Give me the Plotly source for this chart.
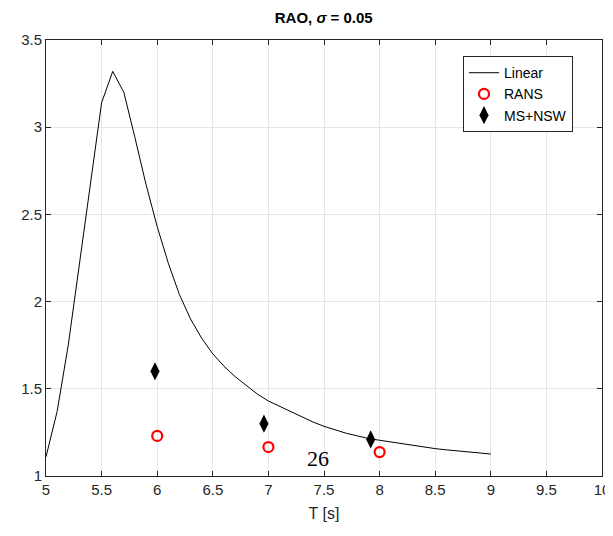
import plotly.graph_objects as go

T_lin = [5.0, 5.1, 5.2, 5.3, 5.4, 5.5, 5.6, 5.7, 5.8, 5.9, 6.0, 6.1, 6.2, 6.3, 6.4, 6.5,
         6.6, 6.7, 6.8, 6.9, 7.0, 7.1, 7.2, 7.3, 7.4, 7.5, 7.6, 7.7, 7.8, 7.9, 8.0,
         8.1, 8.2, 8.3, 8.4, 8.5, 8.6, 8.7, 8.8, 8.9, 9.0]
rao_lin = [1.11, 1.37, 1.75, 2.21, 2.68, 3.14, 3.32, 3.20, 2.94, 2.67, 2.43, 2.22, 2.04,
           1.90, 1.79, 1.70, 1.63, 1.57, 1.52, 1.47, 1.43, 1.40, 1.37, 1.34, 1.31, 1.285,
           1.265, 1.245, 1.23, 1.215, 1.205, 1.195, 1.185, 1.175, 1.165, 1.157, 1.150,
           1.143, 1.137, 1.131, 1.126]

T_rans = [6.0, 7.0, 8.0]
rao_rans = [1.23, 1.166, 1.137]

T_ms = [5.98, 6.96, 7.92]
rao_ms = [1.60, 1.30, 1.21]

x_ticks = [5, 5.5, 6, 6.5, 7, 7.5, 8, 8.5, 9, 9.5, 10]
y_ticks = [1, 1.5, 2, 2.5, 3, 3.5]

font = "Liberation Sans, Arial, Helvetica, sans-serif"
txt = "#262626"

fig = go.Figure()
fig.add_trace(go.Scatter(x=T_lin, y=rao_lin, mode="lines", name="Linear",
                         line=dict(color="black", width=1)))
fig.add_trace(go.Scatter(x=T_rans, y=rao_rans, mode="markers", name="RANS",
                         marker=dict(symbol="circle-open", color="red", size=10,
                                     line=dict(color="red", width=2.2))))
fig.add_trace(go.Scatter(x=T_ms, y=rao_ms, mode="markers", name="MS+NSW",
                         marker=dict(symbol="diamond-tall", color="black", size=13,
                                     line=dict(color="black", width=0))))

fig.add_annotation(x=7.45, y=1.10, text="26", showarrow=False,
                   font=dict(family="Liberation Serif, Times New Roman, serif", size=22, color="black"))

axis_common = dict(showgrid=True, gridcolor="#e6e6e6", gridwidth=1,
                   showline=True, linecolor=txt, linewidth=1, mirror="ticks",
                   ticks="inside", ticklen=5, tickcolor=txt, zeroline=False,
                   automargin=False,
                   tickfont=dict(family=font, size=15, color=txt))

fig.update_xaxes(range=[5, 10], tickvals=x_ticks, ticktext=[f"{v:g}" for v in x_ticks],
                 title=dict(text="T [s]", font=dict(family=font, size=16, color=txt), standoff=10),
                 **axis_common)
fig.update_yaxes(range=[1, 3.5], tickvals=y_ticks, ticktext=[f"{v:g}" for v in y_ticks],
                 **axis_common)

fig.update_layout(
    width=613, height=536,
    margin=dict(l=38, r=19, t=32, b=68),
    paper_bgcolor="white", plot_bgcolor="white",
    title=dict(text="<b>RAO, <i>σ</i> = 0.05</b>", x=0.515, xanchor="center", y=0.982,
               yanchor="middle", font=dict(family=font, size=15, color="black")),
    legend=dict(x=0.75, y=0.963, xanchor="left", yanchor="top",
                bgcolor="white", bordercolor=txt, borderwidth=1,
                font=dict(family=font, size=14, color="black"),
                tracegroupgap=0, itemwidth=30),
    showlegend=True,
)

fig.write_html("out.html")
